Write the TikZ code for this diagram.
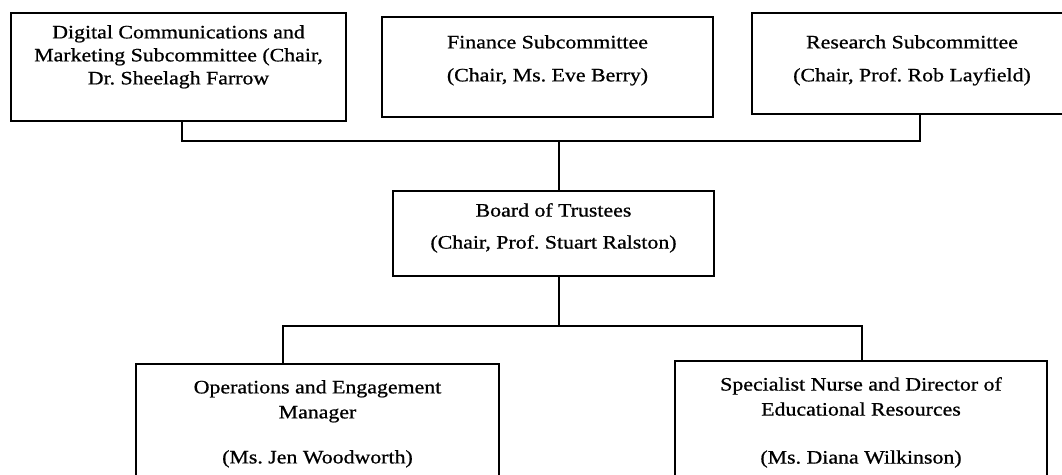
\documentclass[tikz,border=0pt]{standalone}
\usepackage{fontspec}
\setmainfont[FakeStretch=1.15,FakeBold=0.8]{Liberation Serif}
\begin{document}
\frenchspacing
\begin{tikzpicture}[x=1pt,y=-1pt,
  box/.style={draw=black,line width=1.5pt,rectangle,inner sep=0pt},
  txt/.style={anchor=north,align=center,inner sep=0pt,font=\fontsize{19}{23}\selectfont},
  link/.style={draw=black,line width=1.5pt}]
\useasboundingbox (0,0) rectangle (1062,474);
\clip (0,0) rectangle (1062,474);
\fill[white] (0,0) rectangle (1062,474);
% boxes: (x1,y1)-(x2,y2) -> centre and size
\node[box,minimum width=335pt,minimum height=108pt] (dig) at (178.5,67) {};
\node[box,minimum width=331pt,minimum height=100pt] (fin) at (547.5,67) {};
\node[box,minimum width=320pt,minimum height=101pt] (res) at (912,63.5) {};
\node[box,minimum width=321pt,minimum height=85pt] (board) at (553.5,233.5) {};
\node[box,minimum width=363pt,minimum height=126pt] (ops) at (317.5,427) {};
\node[box,minimum width=372pt,minimum height=129pt] (nurse) at (861,425.5) {};
% texts
\node[txt] (digt) at (178.5,25) {Digital Communications and\\Marketing Subcommittee (Chair,\\Dr. Sheelagh Farrow};
\node[txt] (fint) at (547.5,35) {Finance Subcommittee\\[10pt](Chair, Ms. Eve Berry)};
\node[txt] (rest) at (912,35) {Research Subcommittee\\[10pt](Chair, Prof. Rob Layfield)};
\node[txt] (boardt) at (553.5,203) {Board of Trustees\\[9pt](Chair, Prof. Stuart Ralston)};
\node[txt] (opst) at (317.5,380) {Operations and Engagement\\[2pt]Manager\\[22pt](Ms. Jen Woodworth)};
\node[txt] (nurset) at (861,377) {Specialist Nurse and Director of\\[2pt]Educational Resources\\[25pt](Ms. Diana Wilkinson)};
% connectors
\coordinate (topbus) at (559,141);
\coordinate (bl) at (283,326);
\coordinate (br) at (862,326);
\coordinate (bm) at (559,326);
\draw[link] ([xshift=3.5pt]dig.south) |- (topbus) -| ([xshift=8pt]res.south);
\draw[link] (topbus) -- (topbus |- board.north);
\draw[link] (bm |- board.south) -- (bm);
\draw[link] (bl |- ops.north) -- (bl) -- (br) -- (br |- nurse.north);
\end{tikzpicture}
\end{document}
